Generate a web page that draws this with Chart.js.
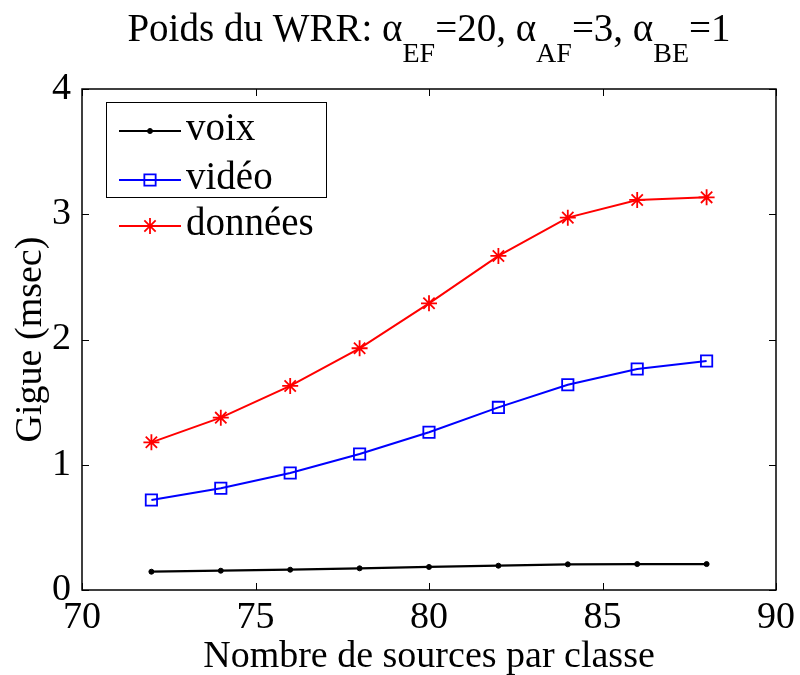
<!DOCTYPE html>
<html><head><meta charset="utf-8">
<script src="https://cdn.jsdelivr.net/npm/chart.js@4"></script>
<style>html,body{margin:0;padding:0;background:#fff}#wrap{width:800px;height:675px}</style>
</head><body><div id="wrap"><canvas id="c" width="800" height="675"></canvas></div>
<script>
const sources = [72, 74, 76, 78, 80, 82, 84, 86, 88];
const voix = [0.146, 0.154, 0.162, 0.173, 0.184, 0.194, 0.205, 0.207, 0.207];
const video = [0.719, 0.812, 0.934, 1.086, 1.259, 1.458, 1.639, 1.764, 1.828];
const donnees = [1.179, 1.376, 1.629, 1.930, 2.289, 2.667, 2.973, 3.114, 3.135];
const xTicks = [70, 75, 80, 85, 90];
const yTicks = [0, 1, 2, 3, 4];
const seriesLabels = ['voix', 'vidéo', 'données'];
const titleParts = [['Poids du WRR: α', 0], ['EF', 1], ['=20, α', 0], ['AF', 1], ['=3, α', 0], ['BE', 1], ['=1', 0]];
const xLabel = 'Nombre de sources par classe';
const yLabel = 'Gigue (msec)';

const FONT = "'Liberation Serif', 'Times New Roman', serif";
const pts = arr => sources.map((x, i) => ({x: x, y: arr[i]}));

const boxPlugin = {
  id: 'boxTicks',
  afterDatasetsDraw(chart) {
    const ctx = chart.ctx, a = chart.chartArea;
    const xs = chart.scales.x, ys = chart.scales.y;
    ctx.save();
    ctx.strokeStyle = '#000';
    ctx.lineWidth = 1.5;
    ctx.strokeRect(a.left, a.top, a.right - a.left, a.bottom - a.top);
    ctx.lineWidth = 1;
    const L = 7;
    ctx.beginPath();
    xTicks.forEach(v => {
      const px = Math.round(xs.getPixelForValue(v)) + 0.5;
      ctx.moveTo(px, a.bottom); ctx.lineTo(px, a.bottom - L);
      ctx.moveTo(px, a.top); ctx.lineTo(px, a.top + L);
    });
    yTicks.forEach(v => {
      const py = Math.round(ys.getPixelForValue(v)) + 0.5;
      ctx.moveTo(a.left, py); ctx.lineTo(a.left + L, py);
      ctx.moveTo(a.right, py); ctx.lineTo(a.right - L, py);
    });
    ctx.stroke();
    ctx.restore();
  },
  afterDraw(chart) {
    const ctx = chart.ctx, a = chart.chartArea;
    ctx.save();
    // title with subscripts
    const mainF = '39px ' + FONT, subF = '28px ' + FONT;
    let w = 0;
    titleParts.forEach(p => { ctx.font = p[1] ? subF : mainF; w += ctx.measureText(p[0]).width; });
    let x = (a.left + a.right) / 2 - w / 2;
    ctx.fillStyle = '#000';
    ctx.textBaseline = 'alphabetic';
    ctx.textAlign = 'left';
    titleParts.forEach(p => {
      ctx.font = p[1] ? subF : mainF;
      ctx.fillText(p[0], x, p[1] ? 62 : 41);
      x += ctx.measureText(p[0]).width;
    });
    // legend
    const bx = 106, by = 102, bw = 220, bh = 95;
    ctx.fillStyle = '#fff';
    ctx.fillRect(bx, by, bw, bh);
    ctx.strokeStyle = '#000';
    ctx.lineWidth = 1;
    ctx.strokeRect(bx + 0.5, by + 0.5, bw, bh);
    const rows = [131, 180, 226];
    chart.data.datasets.forEach((ds, i) => {
      const y = rows[i];
      ctx.strokeStyle = ds.borderColor;
      ctx.lineWidth = ds.borderWidth;
      ctx.beginPath(); ctx.moveTo(119, y); ctx.lineTo(181, y); ctx.stroke();
      ctx.fillStyle = ds.pointBackgroundColor;
      ctx.strokeStyle = ds.borderColor;
      ctx.lineWidth = ds.pointBorderWidth;
      Chart.helpers.drawPoint(ctx, {pointStyle: ds.pointStyle, radius: ds.pointRadius, rotation: 0, borderWidth: ds.pointBorderWidth}, 150, y);
      ctx.fillStyle = '#000';
      ctx.font = '39px ' + FONT;
      ctx.textBaseline = 'middle';
      ctx.fillText(ds.label, 186, y - 1);
    });
    ctx.restore();
  }
};

new Chart(document.getElementById('c'), {
  type: 'line',
  data: {
    datasets: [
      {label: seriesLabels[0], data: pts(voix), borderColor: '#000000', borderWidth: 2.2,
       pointStyle: 'circle', pointRadius: 2.5, pointBackgroundColor: '#000000', pointBorderWidth: 1},
      {label: seriesLabels[1], data: pts(video), borderColor: '#0000ff', borderWidth: 2,
       pointStyle: 'rect', pointRadius: 8, pointBackgroundColor: 'rgba(0,0,0,0)', pointBorderWidth: 1.8},
      {label: seriesLabels[2], data: pts(donnees), borderColor: '#ff0000', borderWidth: 2,
       pointStyle: 'star', pointRadius: 8, pointBackgroundColor: 'rgba(0,0,0,0)', pointBorderWidth: 1.8}
    ]
  },
  options: {
    responsive: false,
    animation: false,
    devicePixelRatio: 1,
    layout: {padding: {top: 89, right: 24, left: 0, bottom: 0}},
    plugins: {legend: {display: false}, title: {display: false}, tooltip: {enabled: false}},
    scales: {
      x: {
        type: 'linear', min: 70, max: 90,
        afterBuildTicks: s => { s.ticks = xTicks.map(v => ({value: v})); },
        afterFit: s => { s.height = 85; },
        grid: {display: false}, border: {display: false},
        ticks: {color: '#000', font: {family: FONT, size: 38}, padding: -3, maxRotation: 0, autoSkip: false},
        title: {display: true, text: xLabel, color: '#000', font: {family: FONT, size: 38}, padding: {top: 0, bottom: -5}}
      },
      y: {
        type: 'linear', min: 0, max: 4,
        afterBuildTicks: s => { s.ticks = yTicks.map(v => ({value: v})); },
        afterFit: s => { s.width = 82; },
        grid: {display: false}, border: {display: false},
        ticks: {color: '#000', font: {family: FONT, size: 38}, padding: 3, autoSkip: false},
        title: {display: true, text: yLabel, color: '#000', font: {family: FONT, size: 38}, padding: {top: 8, bottom: 0}}
      }
    }
  },
  plugins: [boxPlugin]
});
</script>
</body></html>
